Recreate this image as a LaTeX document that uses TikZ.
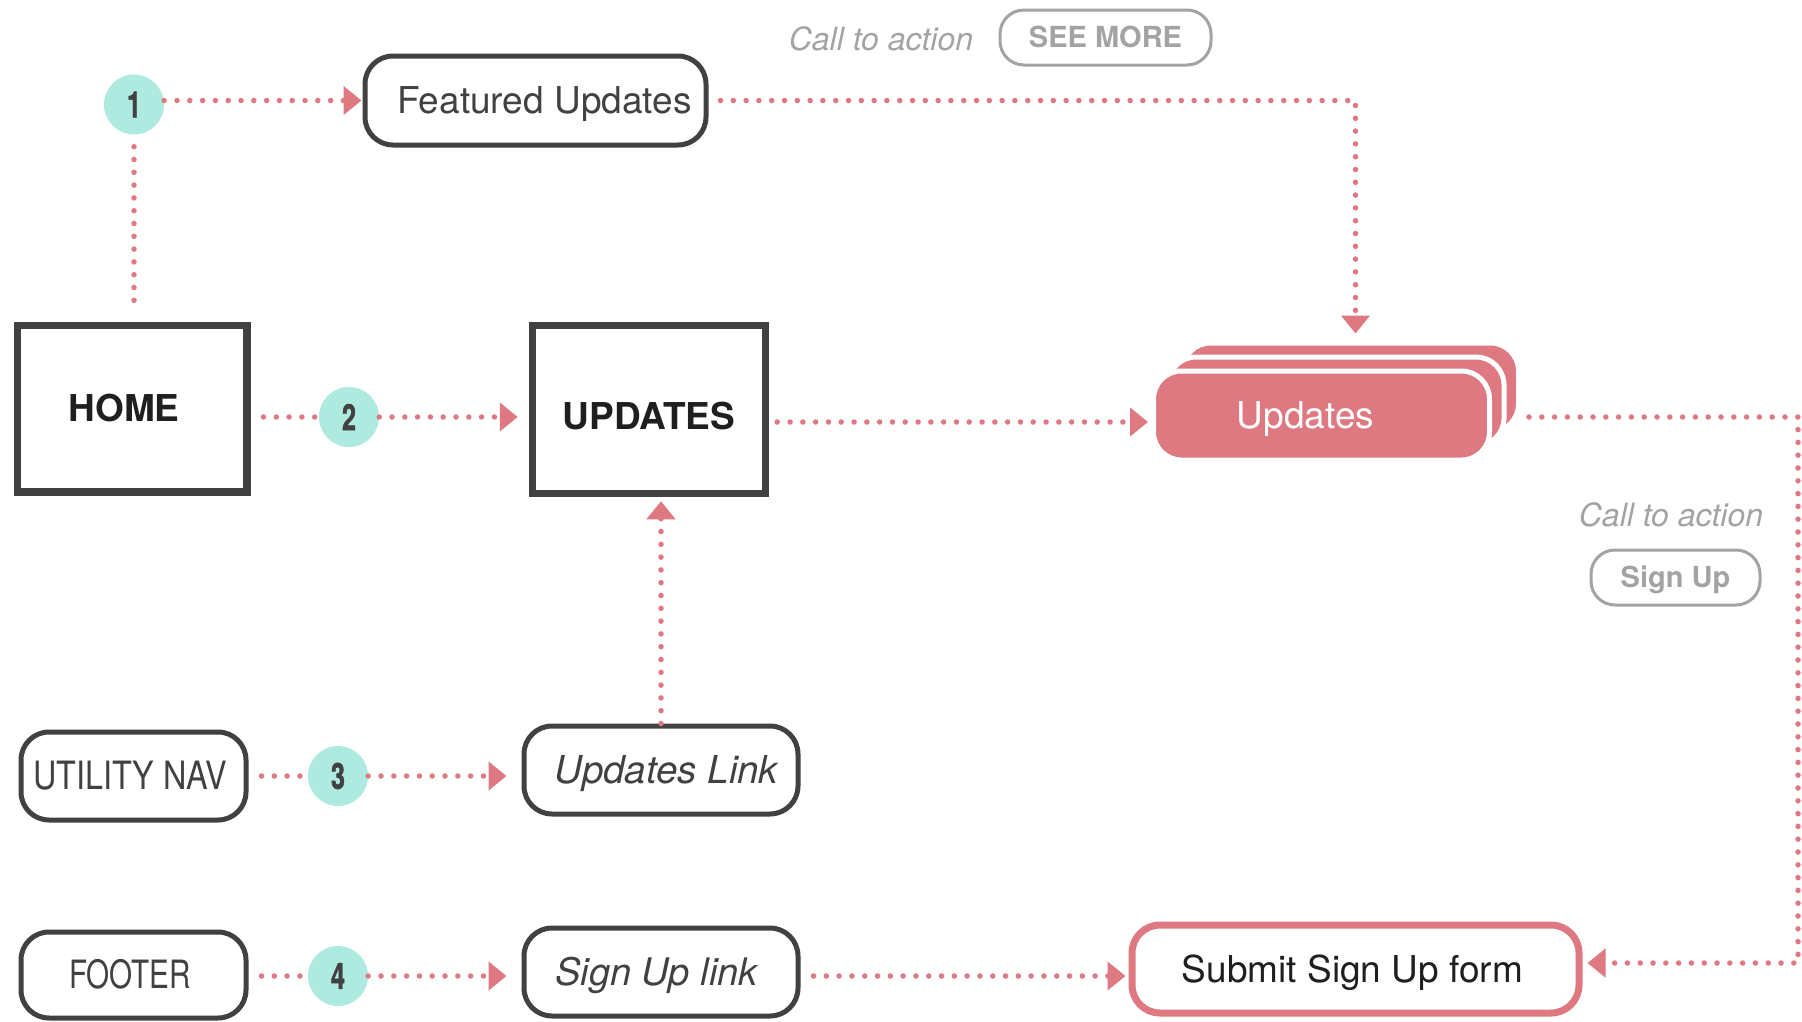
\documentclass[tikz,border=0pt]{standalone}
\usepackage{fontspec}
\usepackage{graphicx}
\setmainfont{TeX Gyre Heros}
\newfontfamily\numfont[FakeBold=1.6]{TeX Gyre Heros Bold}
\usetikzlibrary{arrows.meta,calc}
\definecolor{flowpink}{HTML}{DE7881}
\definecolor{tealc}{HTML}{AEEADF}
\definecolor{darkb}{HTML}{414141}
\definecolor{grayc}{HTML}{A3A3A3}
\tikzset{
  numc/.style={circle, fill=tealc, minimum size=60pt, inner sep=0pt, text=darkb, font=\fontsize{36}{36}\selectfont\numfont},
  bigbox/.style={draw=darkb, line width=7.5pt, inner sep=0pt, text=black!88, font=\fontsize{37}{40}\selectfont\bfseries, text height=26.6pt, text depth=0pt},
  rbox/.style={draw=darkb, line width=5pt, rounded corners=28pt, inner sep=0pt, text=darkb, font=\fontsize{37}{40}\selectfont, text height=26.6pt, text depth=0pt},
  ctabox/.style={draw=grayc, line width=3pt, rounded corners=24pt, inner sep=0pt, text=grayc, font=\fontsize{29}{30}\selectfont\bfseries, text height=20.9pt, text depth=0pt},
  ctatext/.style={text=grayc, font=\fontsize{32}{34}\selectfont\itshape},
  conn/.style={draw=flowpink, line width=5.5pt, line cap=round, dash pattern=on 0pt off 12.8pt},
  arr/.style={-{Triangle[length=18pt,width=28pt]}},
  card/.style={fill=flowpink, draw=white, line width=5pt, rounded corners=28pt, minimum width=336pt, minimum height=89pt, inner sep=0pt, text height=26.6pt, text depth=0pt}
}
\begin{document}
\begin{tikzpicture}[x=1pt,y=-1pt]
\useasboundingbox[fill=white] (0,0) rectangle (1802,1021);

% nodes
\node[numc] (c1) at (134,104.5) {\scalebox{0.7}[1]{1}};
\node[rbox, minimum width=341pt, minimum height=89pt] (feat) at (535.5,100.5) {\hspace*{18pt}Featured Updates};
\node[ctatext] (cta1) at (881,39) {Call to action};
\node[ctabox, minimum width=211pt, minimum height=55pt] (seemore) at (1105.5,37.5) {SEE MORE};

\node[bigbox, minimum width=229.5pt, minimum height=166.5pt] (home) at (132,408.5) {\hspace*{-16pt}HOME};
\node[numc] (c2) at (349,417) {\scalebox{0.7}[1]{2}};
\node[bigbox, minimum width=233pt, minimum height=168pt] (upd) at (649,409.5) {\raisebox{-6.5pt}{UPDATES}};

\node[card] (stack3) at (1350.5,387.5) {};
\node[card] (stack2) at (1336,401.5) {};
\node[card, text=white, font=\fontsize{37}{40}\selectfont] (stack) at (1321.5,415.5) {\hspace*{-32pt}Updates};

\node[ctatext] (cta2) at (1671,515) {Call to action};
\node[ctabox, minimum width=169pt, minimum height=55pt] (signup) at (1675.5,577.5) {Sign Up};

\node[rbox, minimum width=225pt, minimum height=88pt] (util) at (133.5,776) {\hspace*{-7pt}\fontsize{39}{40}\selectfont\scalebox{0.83}[1]{UTILITY NAV}};
\node[numc] (c3) at (338,776) {\scalebox{0.7}[1]{3}};
\node[rbox, minimum width=274pt, minimum height=88pt, font=\fontsize{38.5}{40}\selectfont\itshape] (ulink) at (661,770) {\hspace*{11pt}Updates Link};

\node[rbox, minimum width=225pt, minimum height=86pt] (foot) at (133.5,975) {\hspace*{-7pt}\fontsize{39}{40}\selectfont\scalebox{0.76}[1]{FOOTER}};
\node[numc] (c4) at (338,976) {\scalebox{0.7}[1]{4}};
\node[rbox, minimum width=274pt, minimum height=88pt, font=\fontsize{38}{40}\selectfont\itshape] (slink) at (661,972) {\hspace*{-9pt}Sign Up link};
\node[rbox, draw=flowpink, line width=7pt, minimum width=447pt, minimum height=88pt, text=black!88] (submit) at (1355.5,969) {\hspace*{-6pt}Submit Sign Up form};

% connectors
\draw[conn,arr] (c1.east |- feat.west) -- ([xshift=-1pt]feat.west);
\draw[conn] ([yshift=-12pt]c1.south) -- ([yshift=13pt]c1.south |- home.north);
\draw[conn,arr] ([xshift=12pt]feat.east) -| ([xshift=5pt,yshift=7pt]stack3.north);

\draw[conn] ([xshift=13pt]home.east |- c2) -- (c2.west);
\draw[conn,arr] (c2.east) -- ([xshift=-11pt]c2 -| upd.west);
\coordinate (sin) at (0,422);
\draw[conn,arr] ([xshift=8pt]upd.east |- sin) -- ([xshift=-3pt]stack.west |- sin);
\coordinate (rc) at (1798,417);
\draw[conn,arr] ([xshift=8pt]stack3.east |- rc) -- (rc) |- ([xshift=5pt,yshift=6pt]submit.east);

\draw[conn,arr] (ulink.north) -- ([yshift=-4pt]ulink.north |- upd.south);

\draw[conn] ([xshift=13pt]util.east) -- (c3.west);
\draw[conn,arr] (c3.east) -- ([xshift=-15pt]c3 -| ulink.west);

\draw[conn] ([xshift=13pt]foot.east |- c4) -- (c4.west);
\draw[conn,arr] (c4.east) -- ([xshift=-15pt]c4 -| slink.west);
\draw[conn,arr] ([xshift=13pt]slink.east |- c4) -- ([xshift=-3pt]submit.west |- c4);
\end{tikzpicture}
\end{document}
